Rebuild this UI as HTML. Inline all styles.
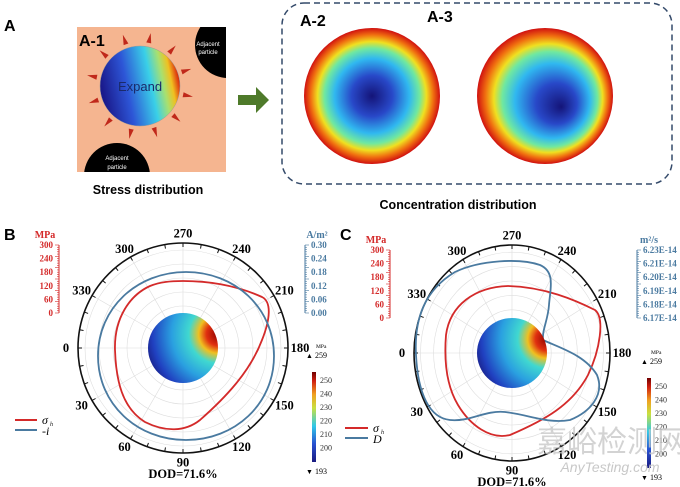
<!DOCTYPE html>
<html><head><meta charset="utf-8"><style>
html,body{margin:0;padding:0;background:#fff;}
svg{display:block;}
text{font-family:"Liberation Serif",serif;}
.s{font-family:"Liberation Sans",sans-serif;}
</style></head><body>
<svg id="g" width="680" height="487" viewBox="0 0 680 487" xmlns="http://www.w3.org/2000/svg">
<defs>
<linearGradient id="sph" x1="0" y1="0.4" x2="1" y2="0.2">
<stop offset="0" stop-color="#1a1a8c"/><stop offset="0.3" stop-color="#2d55d6"/><stop offset="0.6" stop-color="#3ad0e8"/><stop offset="0.75" stop-color="#a8e070"/><stop offset="0.85" stop-color="#f0c020"/><stop offset="0.93" stop-color="#e04010"/><stop offset="1" stop-color="#8a0a0a"/></linearGradient>
<radialGradient id="conc" cx="0.5" cy="0.5" r="0.5">
<stop offset="0" stop-color="#141478"/><stop offset="0.3" stop-color="#2848c8"/><stop offset="0.55" stop-color="#30b8f0"/><stop offset="0.7" stop-color="#70e8a0"/><stop offset="0.8" stop-color="#f0e020"/><stop offset="0.9" stop-color="#f07010"/><stop offset="1" stop-color="#d01010"/></radialGradient>
<radialGradient id="conc2" cx="0.5" cy="0.5" r="0.5" fx="0.62" fy="0.58">
<stop offset="0" stop-color="#141478"/><stop offset="0.3" stop-color="#2848c8"/><stop offset="0.55" stop-color="#30b8f0"/><stop offset="0.7" stop-color="#70e8a0"/><stop offset="0.8" stop-color="#f0e020"/><stop offset="0.9" stop-color="#f07010"/><stop offset="1" stop-color="#d01010"/></radialGradient>
<radialGradient id="disk" cx="1" cy="0.3" r="1.1">
<stop offset="0" stop-color="#900000"/><stop offset="0.15" stop-color="#e03010"/><stop offset="0.25" stop-color="#f0c020"/><stop offset="0.38" stop-color="#40d8d0"/><stop offset="0.6" stop-color="#2aa0e0"/><stop offset="0.85" stop-color="#2040c0"/><stop offset="1" stop-color="#18187a"/></radialGradient>
<linearGradient id="cb" x1="0" y1="1" x2="0" y2="0">
<stop offset="0" stop-color="#1a1a80"/><stop offset="0.2" stop-color="#2850d0"/><stop offset="0.4" stop-color="#30c8e8"/><stop offset="0.6" stop-color="#c8e040"/><stop offset="0.75" stop-color="#f0a020"/><stop offset="0.9" stop-color="#d02010"/><stop offset="1" stop-color="#700000"/></linearGradient>
<clipPath id="c1"><rect x="77" y="27" width="149" height="145"/></clipPath>
</defs>
<text x="4" y="31" class="s" font-size="16" font-weight="bold">A</text>
<rect x="77" y="27" width="149" height="145" fill="#f5b590"/>
<g clip-path="url(#c1)">
<circle cx="228" cy="45" r="33" fill="#000"/>
<circle cx="117" cy="176" r="33" fill="#000"/>
</g>
<g id="rays" fill="#c0281a"></g>
<circle cx="140" cy="86" r="40" fill="url(#sph)" stroke="#999" stroke-width="0.5"/>
<text x="140" y="91" class="s" font-size="13" text-anchor="middle" fill="#1a2a6a">Expand</text>
<text x="208" y="46" class="s" font-size="6" fill="#fff" text-anchor="middle">Adjacent</text>
<text x="208" y="54" class="s" font-size="6" fill="#fff" text-anchor="middle">particle</text>
<text x="117" y="160" class="s" font-size="6" fill="#fff" text-anchor="middle">Adjacent</text>
<text x="117" y="169" class="s" font-size="6" fill="#fff" text-anchor="middle">particle</text>
<text x="79" y="46" class="s" font-size="16" font-weight="bold">A-1</text>
<text x="148" y="194" class="s" font-size="12.5" font-weight="bold" text-anchor="middle">Stress distribution</text>
<path d="M238 95 L256 95 L256 87 L269 100 L256 113 L256 105 L238 105 Z" fill="#4e7a2a"/>
<rect x="282" y="3" width="390" height="181" rx="22" fill="none" stroke="#344a6a" stroke-width="1.5" stroke-dasharray="6,4"/>
<circle cx="372" cy="96" r="68" fill="url(#conc)"/>
<circle cx="545" cy="96" r="68" fill="url(#conc2)"/>
<text x="300" y="26" class="s" font-size="16" font-weight="bold">A-2</text>
<text x="427" y="22" class="s" font-size="16" font-weight="bold">A-3</text>
<text x="458" y="209" class="s" font-size="12.5" font-weight="bold" text-anchor="middle">Concentration distribution</text>
<text x="4" y="240" class="s" font-size="16" font-weight="bold">B</text>
<g id="pb"></g>
<text x="340" y="240" class="s" font-size="16" font-weight="bold">C</text>
<g id="pc"></g>
<text x="612" y="452" font-family="Noto Sans CJK SC,sans-serif" font-size="30" fill="#c8c8c8" fill-opacity="0.8" text-anchor="middle">嘉峪检测网</text>
<text x="610" y="472" class="s" font-size="14" font-style="italic" fill="#c8c8c8" text-anchor="middle">AnyTesting.com</text>
</svg>
<script>
var NS="http://www.w3.org/2000/svg";
function el(p,t,a,txt){var e=document.createElementNS(NS,t);for(var k in a)e.setAttribute(k,a[k]);if(txt!=null)e.textContent=txt;p.appendChild(e);return e;}
var R=document.getElementById('rays');
for(var i=0;i<12;i++){var a=i*Math.PI/6+0.2,cx=140,cy=86;var r1=44,r2=54;
var x1=cx+r1*Math.cos(a),y1=cy+r1*Math.sin(a),x2=cx+r2*Math.cos(a),y2=cy+r2*Math.sin(a);
var px=-Math.sin(a)*2.5,py=Math.cos(a)*2.5;
el(R,'path',{d:'M'+(x1+px)+' '+(y1+py)+'L'+x2+' '+y2+'L'+(x1-px)+' '+(y1-py)+'Z'});}
function panel(g,cx,cy,rx,ry,dr,left,right,rlab,rticks,cbx,cby,red,blue){
 g=document.getElementById(g);
 el(g,'ellipse',{cx:cx,cy:cy,rx:rx,ry:ry,fill:'#fff'});
 for(var k=1;k<=7;k++)el(g,'ellipse',{cx:cx,cy:cy,rx:rx*k/7.5,ry:ry*k/7.5,fill:'none',stroke:'#ddd','stroke-width':0.6});
 for(var d=0;d<360;d+=30){var a=d*Math.PI/180;el(g,'line',{x1:cx,y1:cy,x2:cx-rx*Math.cos(a),y2:cy+ry*Math.sin(a),stroke:'#ddd','stroke-width':0.6});}
 el(g,'ellipse',{cx:cx,cy:cy,rx:rx,ry:ry,fill:'none',stroke:'#111','stroke-width':1.6});
 for(var d=0;d<360;d+=10){var a=d*Math.PI/180;el(g,'line',{x1:cx-rx*Math.cos(a),y1:cy+ry*Math.sin(a),x2:cx-(rx-4)*Math.cos(a),y2:cy+(ry-4)*Math.sin(a),stroke:'#111','stroke-width':1});}
 for(var d=0;d<360;d+=30){var a=d*Math.PI/180;var x=cx-(rx+dr)*Math.cos(a),y=cy+(ry+dr*0.8)*Math.sin(a)+4;
  el(g,'text',{x:x,y:y,'font-size':12.5,'font-weight':'bold','text-anchor':'middle'},String(d));}
 el(g,'path',{d:red,fill:'none',stroke:'#d42a2a','stroke-width':1.8});
 el(g,'path',{d:blue,fill:'none',stroke:'#4a7aa0','stroke-width':1.8});
 el(g,'circle',{cx:cx,cy:cy,r:35,fill:'url(#disk)'});
 var lx=left,top=cy-103,bot=cy-35;
 el(g,'text',{x:lx-14,y:top-7,'font-size':10,'font-weight':'bold',fill:'#d42a2a','text-anchor':'middle'},'MPa');
 el(g,'line',{x1:lx,y1:top,x2:lx,y2:bot,stroke:'#d42a2a','stroke-width':1});
 for(var k=0;k<=30;k++){var y=bot-(bot-top)*k/30;el(g,'line',{x1:lx,y1:y,x2:lx-(k%5==0?4:2),y2:y,stroke:'#d42a2a','stroke-width':0.6});}
 for(var k=0;k<=5;k++){var y=bot-(bot-top)*k/5;el(g,'text',{x:lx-6,y:y+3,'font-size':9,'font-weight':'bold',fill:'#d42a2a','text-anchor':'end'},String(k*60));}
 var rx2=right;
 el(g,'text',{x:rx2+12,y:top-7,'font-size':10,'font-weight':'bold',fill:'#4a7aa0','text-anchor':'middle'},rlab);
 el(g,'line',{x1:rx2,y1:top,x2:rx2,y2:bot,stroke:'#4a7aa0','stroke-width':1});
 for(var k=0;k<=30;k++){var y=bot-(bot-top)*k/30;el(g,'line',{x1:rx2,y1:y,x2:rx2+(k%5==0?4:2),y2:y,stroke:'#4a7aa0','stroke-width':0.6});}
 for(var k=0;k<rticks.length;k++){var y=top+(bot-top)*k/(rticks.length-1);el(g,'text',{x:rx2+6,y:y+3,'font-size':9,'font-weight':'bold',fill:'#4a7aa0'},rticks[k]);}
 el(g,'text',{x:cbx+4,y:cby-8,'font-size':5.5,'font-family':'Liberation Sans'},'MPa');
 el(g,'text',{x:cbx-6,y:cby+2,'font-size':7},'▲');
 el(g,'text',{x:cbx+3,y:cby+2,'font-size':8,'font-family':'Liberation Sans'},'259');
 var y0=cby+16,h=90;
 el(g,'rect',{x:cbx,y:y0,width:4,height:h,fill:'url(#cb)'});
 var labs=[250,240,230,220,210,200];
 for(var k=0;k<6;k++){var y=y0+8+k*13.5;el(g,'text',{x:cbx+8,y:y+3,'font-size':8,'font-family':'Liberation Sans',fill:'#333'},String(labs[k]));}
 el(g,'text',{x:cbx-6,y:y0+h+12,'font-size':7},'▼');
 el(g,'text',{x:cbx+3,y:y0+h+12,'font-size':8,'font-family':'Liberation Sans'},'193');
 el(g,'text',{x:cx,y:cy+ry+25,'font-size':12.5,'font-weight':'bold','text-anchor':'middle'},'DOD=71.6%');
}
panel('pb',183,348,105,105,12,59,305,'A/m²',['0.30','0.24','0.18','0.12','0.06','0.00'],312,356,
'M183 281 C215 281 240 287 262 297 C272 302 270 320 262 340 C250 372 225 398 200 420 C185 432 165 432 145 422 C122 408 116 380 115 350 C114 318 130 295 150 286 C160 282 170 281 183 281 Z',
'M186 272 C235 272 274 308 274 356 C274 404 235 440 186 440 C137 440 98 404 98 356 C98 308 137 272 186 272 Z');
panel('pc',512,353,98,108,12,390,637,'m²/s',['6.23E-14','6.21E-14','6.20E-14','6.19E-14','6.18E-14','6.17E-14'],647,362,
'M508 286 C545 287 575 300 595 310 C605 318 600 350 588 375 C572 405 545 420 510 435 C490 440 470 425 458 405 C446 385 444 360 446 335 C450 305 475 287 508 286 Z',
'M416 355 C414 318 425 290 455 272 C480 260 520 258 540 265 C556 272 550 290 549 305 C548 320 542 330 543 340 C560 348 585 355 597 375 C605 395 590 412 570 420 C548 424 530 415 505 412 C485 410 470 422 450 420 C430 418 418 395 416 355 Z');
var g=document.getElementById('g');
el(g,'line',{x1:15,y1:420,x2:37,y2:420,stroke:'#d42a2a','stroke-width':2});
el(g,'line',{x1:15,y1:430,x2:37,y2:430,stroke:'#4a7aa0','stroke-width':2});
el(g,'text',{x:42,y:424,'font-size':12,'font-style':'italic'},'σ');
el(g,'text',{x:50,y:426,'font-size':6,'font-style':'italic'},'h');
el(g,'text',{x:42,y:435,'font-size':12,'font-style':'italic'},'-i');
el(g,'line',{x1:345,y1:428,x2:368,y2:428,stroke:'#d42a2a','stroke-width':2});
el(g,'line',{x1:345,y1:438,x2:368,y2:438,stroke:'#4a7aa0','stroke-width':2});
el(g,'text',{x:373,y:432,'font-size':12,'font-style':'italic'},'σ');
el(g,'text',{x:381,y:434,'font-size':6,'font-style':'italic'},'h');
el(g,'text',{x:373,y:443,'font-size':12,'font-style':'italic'},'D');
</script>
</body></html>
